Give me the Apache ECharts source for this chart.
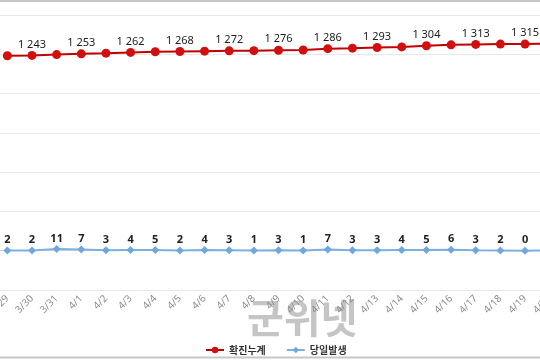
<!DOCTYPE html>
<html><head><meta charset="utf-8">
<script src="https://cdn.jsdelivr.net/npm/echarts@6/dist/echarts.min.js"></script>
<style>html,body{margin:0;padding:0;background:#fff;}#c{width:540px;height:360px;}</style>
</head><body><div id="c"></div>
<script>
const categories = ['3/29','3/30','3/31','4/1','4/2','4/3','4/4','4/5','4/6','4/7','4/8','4/9','4/10','4/11','4/12','4/13','4/14','4/15','4/16','4/17','4/18','4/19','4/20'];
const cumulative = [1241,1243,1248,1253,1257,1262,1266,1268,1270,1272,1273,1276,1277,1286,1289,1293,1297,1304,1310,1313,1315,1315,1318];
const daily = [2,2,11,7,3,4,5,2,4,3,1,3,1,7,3,3,4,5,6,3,2,0,3];
const seriesNames = ['확진누계','당일발생'];
const yMin = -250, yMax = 1500, yStep = 250;

const chart = echarts.init(document.getElementById('c'));
const fmt = v => String(v).replace(/\B(?=(\d{3})+(?!\d))/g, ' ');
chart.setOption({
  animation: false,
  backgroundColor: '#fff',
  textStyle: { fontFamily: 'Noto Sans CJK KR, Noto Sans, sans-serif' },
  grid: { left: -5, top: 15, width: 567, height: 275, containLabel: false, outerBoundsMode: 'none' },
  xAxis: {
    type: 'category', data: categories, boundaryGap: true,
    axisLine: { lineStyle: { color: '#d9d9d9', width: 1 } },
    axisTick: { show: false },
    axisLabel: { interval: 0, rotate: 45, color: '#8c8c8c', fontSize: 10, margin: 7, fontFamily: 'Noto Sans, sans-serif' }
  },
  yAxis: {
    type: 'value', min: yMin, max: yMax, interval: yStep,
    axisLabel: { show: false }, axisLine: { show: false }, axisTick: { show: false },
    splitLine: { lineStyle: { color: '#e8e8e8', width: 1 } }
  },
  legend: {
    left: 200, top: 340, itemWidth: 18, itemHeight: 8, itemGap: 20,
    textStyle: { color: '#333', fontSize: 10, fontWeight: 'bold' },
    data: seriesNames
  },
  graphic: [
    { type: 'text', left: 247, top: 298, z: -1, silent: true,
      style: { text: '군위넷', font: 'bold 40px "Noto Sans CJK KR"', fill: 'rgba(150,150,150,0.55)' } },
    { type: 'line', shape: { x1: 0, y1: 1, x2: 540, y2: 1 }, style: { stroke: '#c8c8c8', lineWidth: 2 } },
    { type: 'line', shape: { x1: 0, y1: 357.5, x2: 540, y2: 357.5 }, style: { stroke: '#c8c8c8', lineWidth: 2 } }
  ],
  series: [
    { name: seriesNames[0], type: 'line', data: cumulative,
      symbol: 'circle', symbolSize: 9, showAllSymbol: true,
      lineStyle: { color: '#c00000', width: 2 }, itemStyle: { color: '#d10f0f' },
      label: { show: true, position: 'top', distance: 1, color: '#222', fontSize: 11,
        fontFamily: 'Noto Sans, sans-serif',
        formatter: p => (p.dataIndex % 2 === 1 ? fmt(p.value) : '') } },
    { name: seriesNames[1], type: 'line', data: daily,
      symbol: 'diamond', symbolSize: 8, showAllSymbol: true,
      lineStyle: { color: '#7cb0e0', width: 2 }, itemStyle: { color: '#6fa8dc' },
      label: { show: true, position: 'top', distance: 1, color: '#222', fontSize: 11, fontWeight: 'bold',
        fontFamily: 'Noto Sans, sans-serif' } }
  ]
});
</script></body></html>
